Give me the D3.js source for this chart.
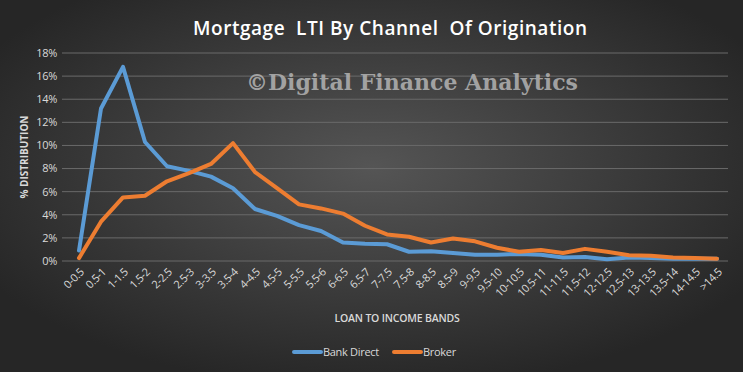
<!DOCTYPE html>
<html>
<head>
<meta charset="utf-8">
<script src="https://cdn.jsdelivr.net/npm/d3@7"></script>
<style>
  body { margin: 0; background: #2b2b2b; }
  svg { display: block; }
</style>
</head>
<body>
<svg id="chart" width="743" height="372"></svg>
<script>
const bands = ["0-0.5", "0.5-1", "1-1.5", "1.5-2", "2-2.5", "2.5-3", "3-3.5", "3.5-4",
  "4-4.5", "4.5-5", "5-5.5", "5.5-6", "6-6.5", "6.5-7", "7-7.5", "7.5-8", "8-8.5",
  "8.5-9", "9-9.5", "9.5-10", "10-10.5", "10.5-11", "11-11.5", "11.5-12", "12-12.5",
  "12.5-13", "13-13.5", "13.5-14", "14-14.5", ">14.5"];

// % distribution
const bankDirect = [0.9, 13.2, 16.8, 10.3, 8.2, 7.8, 7.3, 6.3, 4.5, 3.9, 3.1, 2.6, 1.6, 1.5,
  1.45, 0.8, 0.85, 0.7, 0.55, 0.55, 0.6, 0.55, 0.3, 0.35, 0.15, 0.3, 0.25, 0.2, 0.2, 0.2];
const broker = [0.25, 3.4, 5.5, 5.65, 6.9, 7.6, 8.4, 10.2, 7.7, 6.3, 4.9, 4.55, 4.1, 3.05,
  2.3, 2.1, 1.6, 1.95, 1.7, 1.15, 0.8, 0.95, 0.7, 1.05, 0.8, 0.5, 0.45, 0.3, 0.25, 0.2];

const yTicks = [0, 2, 4, 6, 8, 10, 12, 14, 16, 18];

const seriesList = [
  { name: "Bank Direct", values: bankDirect, color: "#5b9bd5" },
  { name: "Broker", values: broker, color: "#ed7d31" }
];

const svg = d3.select("#chart");
const width = +svg.attr("width");
const height = +svg.attr("height");
const margin = { top: 53, right: 15, bottom: 111, left: 68 };

// background radial gradient
const defs = svg.append("defs");
const grad = defs.append("radialGradient")
  .attr("id", "bg")
  .attr("cx", "50%").attr("cy", "45%").attr("r", "60%");
grad.append("stop").attr("offset", "0%").attr("stop-color", "#555555");
grad.append("stop").attr("offset", "100%").attr("stop-color", "#262626");

svg.append("rect")
  .attr("width", width)
  .attr("height", height)
  .attr("fill", "url(#bg)");

const x = d3.scalePoint()
  .domain(bands)
  .range([margin.left, width - margin.right])
  .padding(0.5);

const y = d3.scaleLinear()
  .domain([0, 18])
  .range([height - margin.bottom, margin.top]);

// gridlines
svg.append("g")
  .selectAll("line")
  .data(yTicks)
  .join("line")
  .attr("x1", margin.left - 6)
  .attr("x2", width - margin.right)
  .attr("y1", (d) => y(d))
  .attr("y2", (d) => y(d))
  .attr("stroke", "#6a6a6a")
  .attr("stroke-width", 1);

// y axis labels
svg.append("g")
  .selectAll("text")
  .data(yTicks)
  .join("text")
  .attr("x", margin.left - 11)
  .attr("y", (d) => y(d))
  .attr("dy", "0.35em")
  .attr("text-anchor", "end")
  .attr("fill", "#d9d9d9")
  .style("font", "11px 'Open Sans', sans-serif")
  .style("letter-spacing", "-0.3px")
  .text((d) => d + "%");

// x axis labels
svg.append("g")
  .selectAll("text")
  .data(bands)
  .join("text")
  .attr("transform", (d) => `translate(${x(d) + 3},${height - margin.bottom + 9}) rotate(-45)`)
  .attr("text-anchor", "end")
  .attr("dy", "0.35em")
  .attr("fill", "#d9d9d9")
  .style("font", "11px 'Open Sans', sans-serif")
  .style("letter-spacing", "-0.4px")
  .text((d) => d);

// watermark
svg.append("text")
  .attr("x", 412)
  .attr("y", 90)
  .attr("text-anchor", "middle")
  .attr("fill", "#b4b4b4")
  .attr("fill-opacity", 0.85)
  .style("font", "bold 22px 'DejaVu Serif', serif")
  .attr("textLength", 332)
  .text("©Digital Finance Analytics");

// lines
const line = d3.line()
  .x((d, i) => x(bands[i]))
  .y((d) => y(d));

svg.append("g")
  .selectAll("path")
  .data(seriesList)
  .join("path")
  .attr("d", (s) => line(s.values))
  .attr("fill", "none")
  .attr("stroke", (s) => s.color)
  .attr("stroke-width", 4)
  .attr("stroke-linejoin", "round")
  .attr("stroke-linecap", "round");

// title
svg.append("text")
  .attr("x", 390)
  .attr("y", 35)
  .attr("text-anchor", "middle")
  .attr("fill", "#ffffff")
  .style("font", "600 19px 'Open Sans', sans-serif")
  .attr("textLength", 394)
  .style("white-space", "pre")
  .text("Mortgage  LTI By Channel  Of Origination");

// axis titles
svg.append("text")
  .attr("transform", "translate(28,157) rotate(-90)")
  .attr("text-anchor", "middle")
  .attr("fill", "#d9d9d9")
  .style("font", "bold 10px 'Open Sans', sans-serif")
  .text("% DISTRIBUTION");

svg.append("text")
  .attr("x", 397)
  .attr("y", 322)
  .attr("text-anchor", "middle")
  .attr("fill", "#d9d9d9")
  .style("font", "600 10.5px 'Open Sans', sans-serif")
  .style("letter-spacing", "-0.2px")
  .text("LOAN TO INCOME BANDS");

// legend
const legendPos = [292, 392];
const legend = svg.append("g")
  .selectAll("g")
  .data(seriesList)
  .join("g")
  .attr("transform", (d, i) => `translate(${legendPos[i]},352)`);

legend.append("line")
  .attr("x1", 2).attr("x2", 29)
  .attr("stroke", (d) => d.color)
  .attr("stroke-width", 4)
  .attr("stroke-linecap", "round");

legend.append("text")
  .attr("x", 31)
  .attr("dy", "0.35em")
  .attr("fill", "#d9d9d9")
  .style("font", "11px 'Open Sans', sans-serif")
  .style("letter-spacing", "-0.3px")
  .text((d) => d.name);
</script>
</body>
</html>
